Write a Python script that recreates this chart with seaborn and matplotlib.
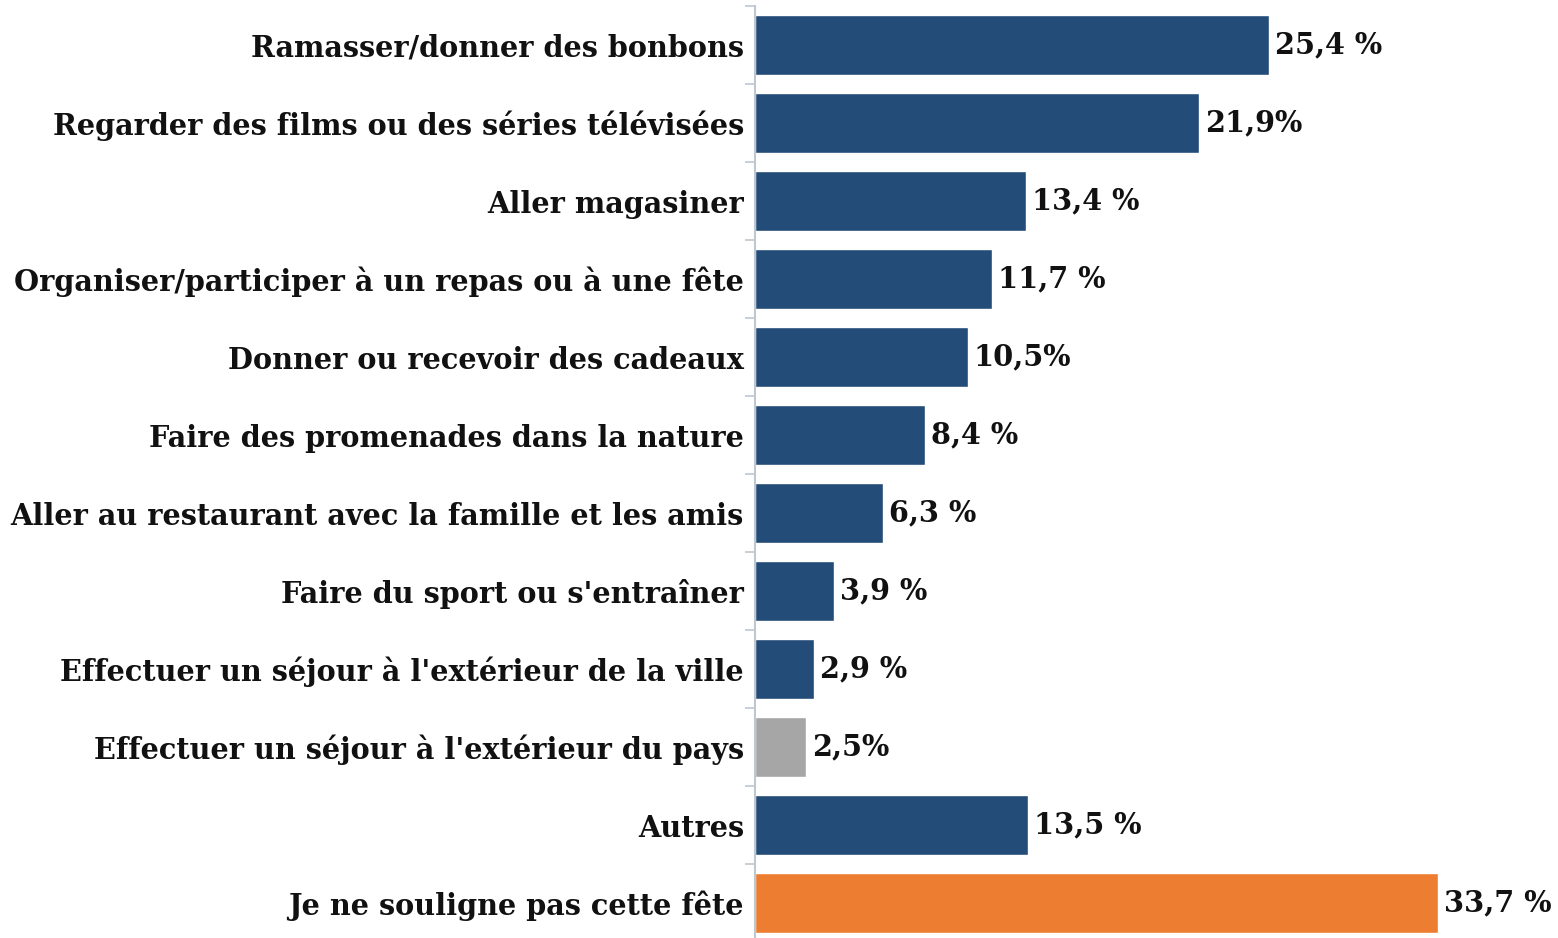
import matplotlib
matplotlib.use("Agg")
import matplotlib.pyplot as plt
import seaborn as sns
import pandas as pd


##################################################
# Data
##################################################

categories = [
    "Ramasser/donner des bonbons",
    "Regarder des films ou des séries télévisées",
    "Aller magasiner",
    "Organiser/participer à un repas ou à une fête",
    "Donner ou recevoir des cadeaux",
    "Faire des promenades dans la nature",
    "Aller au restaurant avec la famille et les amis",
    "Faire du sport ou s'entraîner",
    "Effectuer un séjour à l'extérieur de la ville",
    "Effectuer un séjour à l'extérieur du pays",
    "Autres",
    "Je ne souligne pas cette fête",
]
values = [25.4, 21.9, 13.4, 11.7, 10.5, 8.4, 6.3, 3.9, 2.9, 2.5, 13.5, 33.7]
value_labels = [
    "25,4 %", "21,9%", "13,4 %", "11,7 %", "10,5%", "8,4 %",
    "6,3 %", "3,9 %", "2,9 %", "2,5%", "13,5 %", "33,7 %",
]
groups = ["main"] * 9 + ["gray", "main", "none"]

palette = {"main": "#234D78", "gray": "#A6A6A6", "none": "#ED7D31"}

df = pd.DataFrame({"activite": categories, "pct": values, "groupe": groups})


##################################################
# Plot
##################################################

sns.set_style("white")
plt.rcParams["font.family"] = ["DejaVu Serif"]

fig = plt.figure(figsize=(15.58, 9.38), dpi=100)
ax = fig.add_axes([0.4846, -0.0043, 0.5154, 0.9979])

sns.barplot(
    data=df, x="pct", y="activite", hue="groupe", palette=palette,
    orient="h", dodge=False, width=0.76, saturation=1, legend=False, ax=ax,
)

ax.set_xlim(0, 39.65)
ax.set_ylim(len(categories) - 0.5, -0.5)
ax.set_xlabel("")
ax.set_ylabel("")
ax.set_xticks([])

for side in ["top", "right", "bottom"]:
    ax.spines[side].set_visible(False)
ax.spines["left"].set_color("#BFC7D0")
ax.spines["left"].set_linewidth(1.5)

# labels on the categories, ticks on the boundaries
ax.set_yticks(range(len(categories)))
ax.set_yticklabels(categories, fontsize=20.7, fontweight="bold", color="#111111")
ax.tick_params(axis="y", which="major", left=False, length=0, pad=8)
ax.set_yticks([i - 0.5 for i in range(len(categories) + 1)], minor=True)
ax.tick_params(axis="y", which="minor", left=True, length=7, width=1.2,
               color="#BFC7D0", direction="out")

for i, (v, lab) in enumerate(zip(values, value_labels)):
    ax.text(v + 0.3, i, lab, va="center", ha="left", fontsize=20.7,
            fontweight="bold", color="#111111")

fig.savefig("out.png", dpi=100)
